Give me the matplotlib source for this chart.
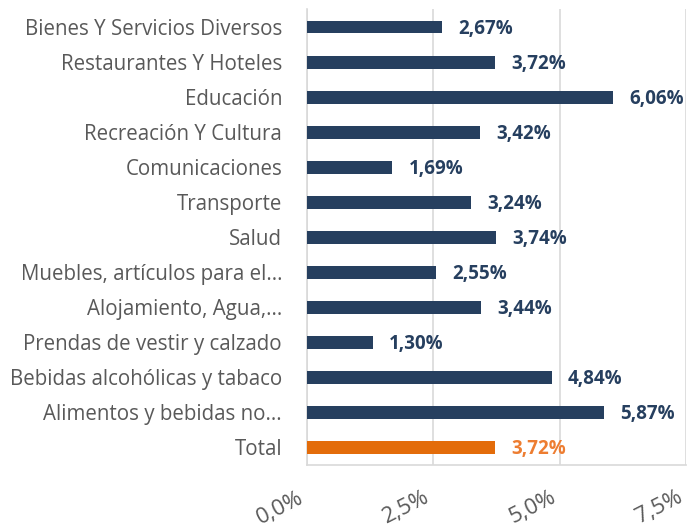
import matplotlib.pyplot as plt
import matplotlib.ticker as mticker

plt.rcParams['font.family'] = ['Open Sans', 'DejaVu Sans']

categorias = [
    "Bienes Y Servicios Diversos",
    "Restaurantes Y Hoteles",
    "Educación",
    "Recreación Y Cultura",
    "Comunicaciones",
    "Transporte",
    "Salud",
    "Muebles, artículos para el...",
    "Alojamiento, Agua,...",
    "Prendas de vestir y calzado",
    "Bebidas alcohólicas y tabaco",
    "Alimentos y bebidas no...",
    "Total",
]
valores = [2.67, 3.72, 6.06, 3.42, 1.69, 3.24, 3.74, 2.55, 3.44, 1.30, 4.84, 5.87, 3.72]
ticks = [0.0, 2.5, 5.0, 7.5]

azul = "#263f5f"
naranja = "#e36c0a"
naranja_txt = "#ed7d31"

fig = plt.figure(figsize=(6.9, 5.27), dpi=100)
ax = fig.add_axes([0.445, 0.118, 0.549, 0.864])

pos = list(range(len(categorias)))
colores = [naranja if c == "Total" else azul for c in categorias]
ax.barh(pos, valores, height=0.37, color=colores, zorder=3)

# etiquetes de valor al final de cada barra
for p, v, c in zip(pos, valores, categorias):
    col = naranja_txt if c == "Total" else azul
    ax.text(v + 0.32, p + 0.05, f"{v:.2f}%".replace(".", ","), va="center", ha="left",
            fontsize=13.5, fontweight="bold", color=col, zorder=4)

ax.set_ylim(len(categorias) - 0.5, -0.5)
ax.set_xlim(0, 7.5)
ax.set_yticks(pos)
ax.set_yticklabels(categorias, fontsize=14.8, color="#595959")
ax.set_xticks(ticks)
ax.xaxis.set_major_formatter(mticker.FuncFormatter(lambda x, _: f"{x:.1f}%".replace(".", ",")))
for lab in ax.get_xticklabels():
    lab.set_rotation(27)
    lab.set_fontsize(16)
    lab.set_color("#595959")
    lab.set_ha("right")
    lab.set_va("bottom")
    lab.set_rotation_mode("anchor")
ax.tick_params(axis="both", length=0)
ax.tick_params(axis="y", pad=18)
ax.tick_params(axis="x", pad=29.5)

ax.grid(axis="x", color="#d9d9d9", linewidth=1.2, zorder=0)
for s in ["top", "right"]:
    ax.spines[s].set_visible(False)
for s in ["left", "bottom"]:
    ax.spines[s].set_color("#d9d9d9")
    ax.spines[s].set_linewidth(1.2)

fig.savefig("out.png", dpi=100)
